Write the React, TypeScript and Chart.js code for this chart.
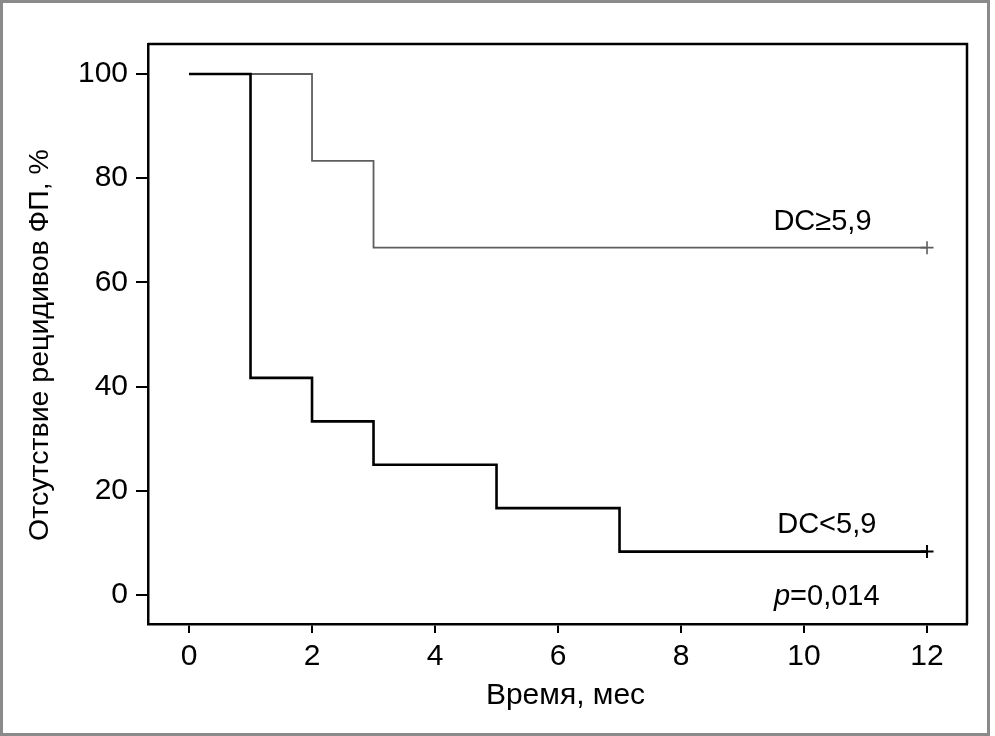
import React, { useEffect, useRef } from "react";
import { Chart, registerables } from "chart.js";

Chart.register(...registerables);

// Kaplan–Meier style survival data (time in months, % free of AF recurrence)
const lowTimes = [0, 1, 2, 3, 5, 7, 12];
const lowValues = [100, 41.67, 33.33, 25, 16.67, 8.33, 8.33];
const highTimes = [0, 2, 3, 12];
const highValues = [100, 83.33, 66.67, 66.67];

const xTicks = [0, 2, 4, 6, 8, 10, 12];
const yTicks = [0, 20, 40, 60, 80, 100];

const seriesLabels = ["DC<5,9", "DC≥5,9"];
const xTitle = "Время, мес";
const yTitle = "Отсутствие рецидивов ФП, %";
const pText = "=0,014";

// annotation anchors in data coordinates
const annotations = [
  { text: "DC≥5,9", x: 10.3, y: 71.6 },
  { text: "DC<5,9", x: 10.37, y: 13.4 },
];
const pAnchor = { x: 10.37, y: -0.4 };

const FONT = "'Liberation Sans', Arial, Helvetica, sans-serif";

export default function App() {
  const ref = useRef<HTMLCanvasElement | null>(null);

  useEffect(() => {
    document.body.style.margin = "0";
    const canvas = ref.current!;

    const framePlugin = {
      id: "framePlugin",
      afterDatasetsDraw(chart: any) {
        const { ctx, chartArea } = chart;
        ctx.save();
        ctx.strokeStyle = "#000";
        ctx.lineWidth = 2.5;
        ctx.beginPath();
        ctx.moveTo(chartArea.left, chartArea.top);
        ctx.lineTo(chartArea.right, chartArea.top);
        ctx.lineTo(chartArea.right, chartArea.bottom);
        ctx.stroke();
        // annotations
        const xs = chart.scales.x;
        const ys = chart.scales.y;
        ctx.fillStyle = "#000";
        ctx.textBaseline = "middle";
        ctx.textAlign = "center";
        ctx.font = `29px ${FONT}`;
        annotations.forEach((a) => {
          ctx.fillText(a.text, xs.getPixelForValue(a.x), ys.getPixelForValue(a.y));
        });
        // p-value with italic p
        ctx.font = `italic 29px ${FONT}`;
        const pw = ctx.measureText("p").width;
        ctx.font = `29px ${FONT}`;
        const rw = ctx.measureText(pText).width;
        const cx = xs.getPixelForValue(pAnchor.x);
        const cy = ys.getPixelForValue(pAnchor.y);
        const start = cx - (pw + rw) / 2;
        ctx.textAlign = "left";
        ctx.font = `italic 29px ${FONT}`;
        ctx.fillText("p", start, cy);
        ctx.font = `29px ${FONT}`;
        ctx.fillText(pText, start + pw, cy);

        // axis titles
        ctx.textAlign = "center";
        ctx.textBaseline = "middle";
        ctx.font = `30px ${FONT}`;
        ctx.fillText(xTitle, (chartArea.left + chartArea.right) / 2 + 8, 696);
        ctx.save();
        ctx.translate(40, (chartArea.top + chartArea.bottom) / 2 + 11);
        ctx.rotate(-Math.PI / 2);
        ctx.font = `28.5px ${FONT}`;
        ctx.fillText(yTitle, 0, 0);
        ctx.restore();
        ctx.restore();
      },
      afterDraw(chart: any) {
        const { ctx } = chart;
        ctx.save();
        ctx.strokeStyle = "#8a8a8a";
        ctx.lineWidth = 3;
        ctx.strokeRect(1.5, 1.5, 987, 733);
        ctx.restore();
      },
    };

    const chart = new Chart(canvas, {
      type: "line",
      data: {
        datasets: [
          {
            label: seriesLabels[0],
            data: lowTimes.map((t, i) => ({ x: t, y: lowValues[i] })),
            stepped: true,
            borderColor: "#000",
            borderWidth: 2.6,
            fill: false,
            pointStyle: "cross",
            pointRadius: lowTimes.map((_, i) => (i === lowTimes.length - 1 ? 6.5 : 0)),
            pointBorderColor: "#000",
            pointBorderWidth: 2,
            pointHoverRadius: 0,
          },
          {
            label: seriesLabels[1],
            data: highTimes.map((t, i) => ({ x: t, y: highValues[i] })),
            stepped: true,
            borderColor: "#5e5e5e",
            borderWidth: 1.8,
            fill: false,
            pointStyle: "cross",
            pointRadius: highTimes.map((_, i) => (i === highTimes.length - 1 ? 6.5 : 0)),
            pointBorderColor: "#5e5e5e",
            pointBorderWidth: 1.6,
            pointHoverRadius: 0,
          },
        ],
      },
      options: {
        animation: false,
        responsive: false,
        maintainAspectRatio: false,
        layout: { padding: { top: 44, right: 28, left: 0, bottom: 0 } },
        plugins: { legend: { display: false }, tooltip: { enabled: false } },
        scales: {
          x: {
            type: "linear",
            min: -0.667,
            max: 12.65,
            afterFit(scale: any) {
              scale.height = 112;
            },
            afterBuildTicks(scale: any) {
              scale.ticks = xTicks.map((v) => ({ value: v }));
            },
            grid: {
              drawOnChartArea: false,
              drawTicks: true,
              tickLength: 9,
              color: "#000",
              lineWidth: 2,
            },
            border: { display: true, color: "#000", width: 2.5 },
            ticks: {
              color: "#000",
              padding: 6,
              font: { family: FONT, size: 30 },
              maxRotation: 0,
            },
            title: { display: false, text: xTitle },
          },
          y: {
            type: "linear",
            min: -5.57,
            max: 105.76,
            afterFit(scale: any) {
              scale.width = 148;
            },
            afterBuildTicks(scale: any) {
              scale.ticks = yTicks.map((v) => ({ value: v }));
            },
            grid: {
              drawOnChartArea: false,
              drawTicks: true,
              tickLength: 12,
              color: "#000",
              lineWidth: 2,
            },
            border: { display: true, color: "#000", width: 2.5 },
            ticks: {
              color: "#000",
              padding: 8,
              font: { family: FONT, size: 30 },
            },
            title: { display: false, text: yTitle },
          },
        },
      },
      plugins: [framePlugin],
    });

    return () => chart.destroy();
  }, []);

  return (
    <div style={{ width: 995, height: 736, position: "relative", background: "#fff" }}>
      <canvas ref={ref} width={995} height={736} style={{ width: 995, height: 736, display: "block" }} />
    </div>
  );
}
